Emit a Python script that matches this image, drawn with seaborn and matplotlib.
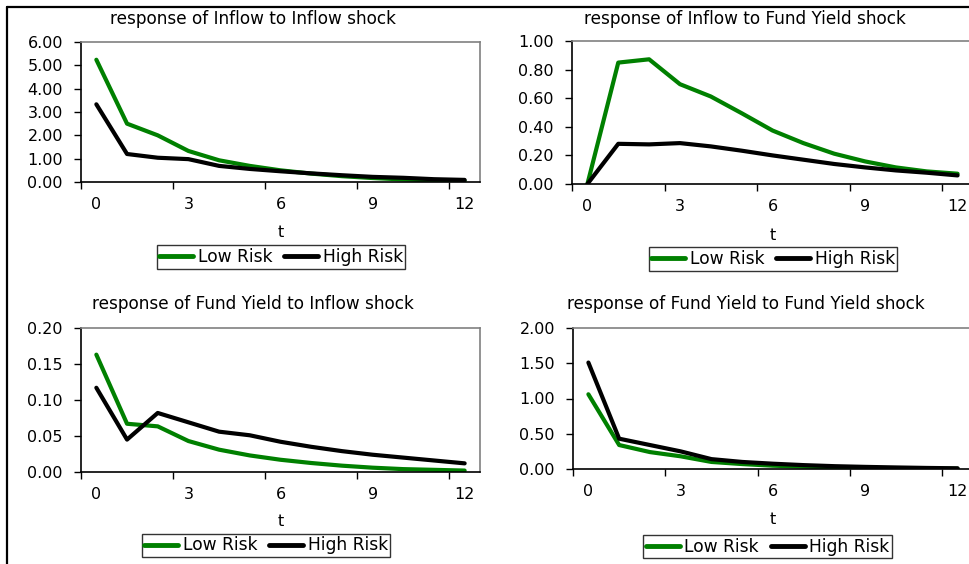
import numpy as np
import pandas as pd
import matplotlib
matplotlib.use("Agg")
import matplotlib.pyplot as plt
from matplotlib.lines import Line2D
import seaborn as sns

t = list(range(13))
series_names = ["Low Risk", "High Risk"]
titles = ["response of Inflow to Inflow shock",
          "response of Inflow to Fund Yield shock",
          "response of Fund Yield to Inflow shock",
          "response of Fund Yield to Fund Yield shock"]

inflow_inflow_low = [5.24, 2.50, 2.00, 1.33, 0.93, 0.69, 0.50, 0.36, 0.25, 0.17, 0.11, 0.07, 0.05]
inflow_inflow_high = [3.33, 1.20, 1.04, 0.98, 0.69, 0.56, 0.46, 0.37, 0.29, 0.22, 0.18, 0.12, 0.09]

inflow_yield_low = [0.00, 0.849, 0.872, 0.698, 0.612, 0.495, 0.374, 0.286, 0.212, 0.158, 0.116, 0.088, 0.072]
inflow_yield_high = [0.00, 0.281, 0.277, 0.286, 0.263, 0.233, 0.200, 0.170, 0.140, 0.116, 0.095, 0.079, 0.060]

yield_inflow_low = [0.163, 0.067, 0.0634, 0.043, 0.031, 0.023, 0.017, 0.0125, 0.0088, 0.006, 0.004, 0.003, 0.002]
yield_inflow_high = [0.117, 0.045, 0.082, 0.069, 0.056, 0.051, 0.042, 0.035, 0.029, 0.024, 0.020, 0.016, 0.012]

yield_yield_low = [1.06, 0.34, 0.24, 0.18, 0.10, 0.07, 0.047, 0.033, 0.024, 0.015, 0.010, 0.006, 0.004]
yield_yield_high = [1.51, 0.43, 0.34, 0.25, 0.14, 0.10, 0.075, 0.055, 0.040, 0.030, 0.022, 0.015, 0.010]

yticks_list = [[0, 1, 2, 3, 4, 5, 6],
               [0, 0.2, 0.4, 0.6, 0.8, 1.0],
               [0, 0.05, 0.10, 0.15, 0.20],
               [0, 0.5, 1.0, 1.5, 2.0]]
xtick_labels = [0, 3, 6, 9, 12]

sns.set_theme(style="white")
plt.rcParams['font.family'] = ['DejaVu Sans']
plt.rcParams['text.color'] = 'black'
plt.rcParams['axes.labelcolor'] = 'black'
plt.rcParams['xtick.color'] = 'black'
plt.rcParams['ytick.color'] = 'black'

W, H = 969, 564
fig = plt.figure(figsize=(W / 100, H / 100), dpi=100)

def fx(x):
    return x / W

def fy(y):
    return 1 - y / H

# pixel boxes: (left, top, right, bottom)
boxes = [(81, 42, 480, 182), (572, 41, 973, 184), (81, 328, 480, 472), (573, 328, 973, 469)]
title_pos = [(253, 19), (745, 19), (253, 304), (746, 304)]
t_pos = [(281, 232), (772, 235), (280, 522), (773, 519)]
legend_pos = [(281, 257), (773, 259), (266, 545.5), (767.5, 546.5)]

data_sets = [(inflow_inflow_low, inflow_inflow_high),
             (inflow_yield_low, inflow_yield_high),
             (yield_inflow_low, yield_inflow_high),
             (yield_yield_low, yield_yield_high)]
palette = {"Low Risk": "#008000", "High Risk": "#000000"}

for i in range(4):
    l, tp, r, b = boxes[i]
    ax = fig.add_axes([fx(l), fy(b), (r - l) / W, (b - tp) / H])
    low, high = data_sets[i]
    df = pd.DataFrame({"t": t * 2,
                       "value": list(low) + list(high),
                       "series": [series_names[0]] * 13 + [series_names[1]] * 13})
    sns.lineplot(data=df, x="t", y="value", hue="series", palette=palette,
                 linewidth=3.0, ax=ax, legend=False)
    for ln in ax.get_lines():
        ln.set_solid_capstyle('round')
        ln.set_solid_joinstyle('round')
    yt = yticks_list[i]
    ax.set_ylim(yt[0], yt[-1])
    ax.set_yticks(yt)
    ax.set_yticklabels([f"{v:.2f}" for v in yt], fontsize=11.5)
    ax.set_xlim(-0.5, 12.5)
    ax.set_xticks([v - 0.5 for v in xtick_labels])
    ax.set_xticklabels([])
    ax.set_xticks(xtick_labels, minor=True)
    ax.set_xticklabels([str(v) for v in xtick_labels], minor=True, fontsize=11.5)
    ax.tick_params(axis='x', which='major', direction='out', length=5, width=1, color='black', bottom=True)
    ax.tick_params(axis='x', which='minor', length=0, pad=11, bottom=True)
    ax.tick_params(axis='y', which='major', direction='out', length=5, width=1, color='black', left=True, pad=8)
    for s in ['left', 'bottom']:
        ax.spines[s].set_color('black')
        ax.spines[s].set_linewidth(1.2)
    for s in ['top', 'right']:
        ax.spines[s].set_color('#808080')
        ax.spines[s].set_linewidth(1.2)
    ax.set_ylabel("")
    ax.set_xlabel("t", fontsize=11.5)
    ax.xaxis.set_label_coords(0.5, -(t_pos[i][1] - b) / (b - tp))
    ax.xaxis.label.set_va('center')
    fig.text(fx(title_pos[i][0]), fy(title_pos[i][1]), titles[i], ha='center', va='center', fontsize=12.2)
    handles = [Line2D([0], [0], color=palette[n], lw=3.5, solid_capstyle='round') for n in series_names]
    leg = ax.legend(handles, series_names, ncol=2, loc='center',
                    bbox_to_anchor=(fx(legend_pos[i][0]), fy(legend_pos[i][1])),
                    bbox_transform=fig.transFigure, frameon=True, fancybox=False,
                    edgecolor='black', fontsize=12.3, handlelength=2.0,
                    handletextpad=0.25, columnspacing=0.7, borderpad=0.15,
                    borderaxespad=0)
    leg.get_frame().set_linewidth(1.0)

# page frame lines
fig.add_artist(Line2D([fx(7), fx(969)], [fy(7), fy(7)], color='black', lw=1.6, transform=fig.transFigure))
fig.add_artist(Line2D([fx(7), fx(7)], [fy(7), fy(564)], color='black', lw=1.6, transform=fig.transFigure))

fig.savefig("out.png", dpi=100)
